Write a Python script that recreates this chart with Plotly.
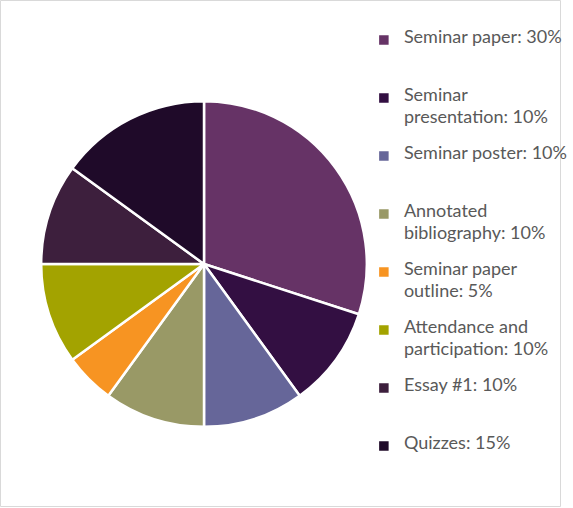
import plotly.graph_objects as go

# Data
categories = ["Seminar paper", "Seminar presentation", "Seminar poster",
              "Annotated bibliography", "Seminar paper outline",
              "Attendance and participation", "Essay #1", "Quizzes"]
values = [30, 10, 10, 10, 5, 10, 10, 15]
# how each legend label wraps (line breaks as in the reference)
legend_lines = [["Seminar paper: 30%"],
                ["Seminar", "presentation: 10%"],
                ["Seminar poster: 10%"],
                ["Annotated", "bibliography: 10%"],
                ["Seminar paper", "outline: 5%"],
                ["Attendance and", "participation: 10%"],
                ["Essay #1: 10%"],
                ["Quizzes: 15%"]]
colors = ["#663366", "#330f42", "#666699", "#999966",
          "#f79422", "#a3a300", "#3d1f3d", "#1f0a29"]

SPAN = '<span style="font-size:18px">{}</span>'

def make_label(lines):
    parts = [SPAN.format(lines[0]), " "]
    if len(lines) > 1:
        parts.append(SPAN.format(lines[1]))
    else:
        parts.append(" ")
    parts += [" ", " "]
    return "<br>".join(parts)

labels = [make_label(l) for l in legend_lines]

W, H = 573, 508
fig = go.Figure(go.Pie(
    labels=labels,
    values=values,
    sort=False,
    direction="clockwise",
    rotation=0,
    textinfo="none",
    hovertext=categories,
    hoverinfo="text+percent",
    marker=dict(colors=colors, line=dict(color="white", width=2.5)),
    domain=dict(x=[42 / W, 374 / W], y=[(H - 430) / H, (H - 98) / H]),
))

fig.update_layout(
    width=W, height=H,
    margin=dict(l=0, r=0, t=0, b=0),
    paper_bgcolor="white",
    font=dict(family="Lato, Open Sans, sans-serif", color="#595959"),
    showlegend=True,
    legend=dict(
        x=371 / W, xanchor="left",
        y=1 - 28 / H, yanchor="top",
        valign="top",
        font=dict(size=11 / 1.3, color="#595959", family="Lato, Open Sans, sans-serif"),
        bgcolor="rgba(0,0,0,0)",
        traceorder="normal",
    ),
    shapes=[dict(type="rect", xref="paper", yref="paper",
                 x0=0.5 / W, x1=1 - 1.5 / W, y0=1.5 / H, y1=1 - 0.5 / H,
                 line=dict(color="#d9d9d9", width=1), layer="below")],
)

fig.write_html("out.html", config={"displayModeBar": False},
               post_script="document.body.style.margin='0';document.body.style.overflow='hidden';")
